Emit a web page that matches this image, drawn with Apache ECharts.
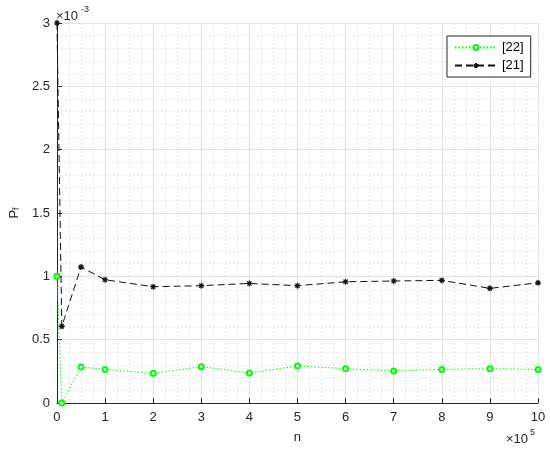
<!DOCTYPE html>
<html>
<head>
<meta charset="utf-8">
<script src="https://cdn.jsdelivr.net/npm/echarts@6/dist/echarts.min.js"></script>
<style>
  html, body { margin: 0; padding: 0; background: #fff; }
  #chart { width: 550px; height: 453px; }
</style>
</head>
<body>
<div id="chart"></div>
<script>
// n in units of 1e5, P_f in units of 1e-3
const nValues = [0, 0.1, 0.5, 1, 2, 3, 4, 5, 6, 7, 8, 9, 10];
const pf22 = [1.0, 0, 0.284, 0.265, 0.234, 0.287, 0.237, 0.292, 0.271, 0.253, 0.265, 0.271, 0.265];
const pf21 = [3.0, 0.605, 1.073, 0.973, 0.918, 0.926, 0.944, 0.926, 0.957, 0.963, 0.968, 0.905, 0.949];
const seriesNames = ['[22]', '[21]'];

const font = '"Liberation Sans", Arial, sans-serif';
const axisColor = '#262626';
const labelColor = '#262626';

const toPairs = (ys) => nValues.map((n, i) => [n, ys[i]]);

// asterisk marker like matlab '*'
const asterisk = 'path://M0,5L10,5M5,0L5,10M1.5,1.5L8.5,8.5M8.5,1.5L1.5,8.5';

const chart = echarts.init(document.getElementById('chart'));

const axisCommon = {
  axisLine: { show: true, onZero: false, lineStyle: { color: axisColor, width: 1 } },
  axisTick: { show: true, inside: true, length: 5, lineStyle: { color: axisColor } },
  axisLabel: { color: labelColor, fontSize: 13, fontFamily: font },
  splitLine: { show: true, lineStyle: { color: '#e4e4e4', width: 1 } },
  minorTick: { show: false, splitNumber: 5 },
  minorSplitLine: { show: true, lineStyle: { color: '#e0e0e0', type: [1.5, 2.5], width: 1 } }
};

const option = {
  animation: false,
  backgroundColor: '#fff',
  grid: { left: 56, right: 12, top: 23, bottom: 50, containLabel: false },
  xAxis: Object.assign({}, axisCommon, {
    type: 'value',
    min: 0,
    max: 10,
    interval: 1,
    name: 'n',
    nameLocation: 'middle',
    nameGap: 28,
    nameTextStyle: { color: labelColor, fontSize: 13, fontFamily: font },
    minorTick: { show: false, splitNumber: 4 },
    axisLabel: Object.assign({}, axisCommon.axisLabel, { margin: 8 })
  }),
  yAxis: Object.assign({}, axisCommon, {
    type: 'value',
    min: 0,
    max: 3,
    interval: 0.5,
    name: '{p|P}{f|f}',
    nameLocation: 'middle',
    nameRotate: 90,
    nameGap: 28,
    nameTextStyle: {
      color: labelColor,
      fontFamily: font,
      rich: {
        p: { fontSize: 13, fontFamily: font, color: labelColor, lineHeight: 13, verticalAlign: 'top' },
        f: { fontSize: 9, fontFamily: font, color: labelColor, lineHeight: 9, verticalAlign: 'bottom' }
      }
    },
    axisLabel: Object.assign({}, axisCommon.axisLabel, { margin: 7 })
  }),
  legend: {
    orient: 'vertical',
    left: 447,
    top: 36,
    padding: [5, 7, 5, 7],
    itemGap: 5,
    itemWidth: 42,
    itemHeight: 6,
    backgroundColor: '#fff',
    borderColor: axisColor,
    borderWidth: 1,
    borderRadius: 0,
    textStyle: { fontSize: 13, fontFamily: font, color: '#000' },
    data: seriesNames
  },
  graphic: [
    { type: 'text', left: 56, top: 10, style: { text: '×10', fontSize: 13, fontFamily: font, fill: labelColor } },
    { type: 'text', left: 81, top: 5, style: { text: '-3', fontSize: 9, fontFamily: font, fill: labelColor } },
    { type: 'text', left: 506, top: 433, style: { text: '×10', fontSize: 13, fontFamily: font, fill: labelColor } },
    { type: 'text', left: 530, top: 428, style: { text: '5', fontSize: 9, fontFamily: font, fill: labelColor } }
  ],
  series: [
    {
      name: seriesNames[0],
      type: 'line',
      data: toPairs(pf22),
      symbol: 'emptyCircle',
      symbolSize: 5,
      showAllSymbol: true,
      clip: false,
      lineStyle: { color: '#00ff00', width: 1, type: [1.5, 2] },
      itemStyle: { color: '#00ff00', borderColor: '#00ff00', borderWidth: 1.5 },
      z: 3
    },
    {
      name: seriesNames[1],
      type: 'line',
      data: toPairs(pf21),
      symbol: asterisk,
      symbolSize: 6,
      showAllSymbol: true,
      clip: false,
      lineStyle: { color: '#111', width: 1, type: [7, 4] },
      itemStyle: { color: '#111', borderColor: '#111', borderWidth: 1.2 },
      z: 4
    }
  ]
};

chart.setOption(option);
</script>
</body>
</html>
